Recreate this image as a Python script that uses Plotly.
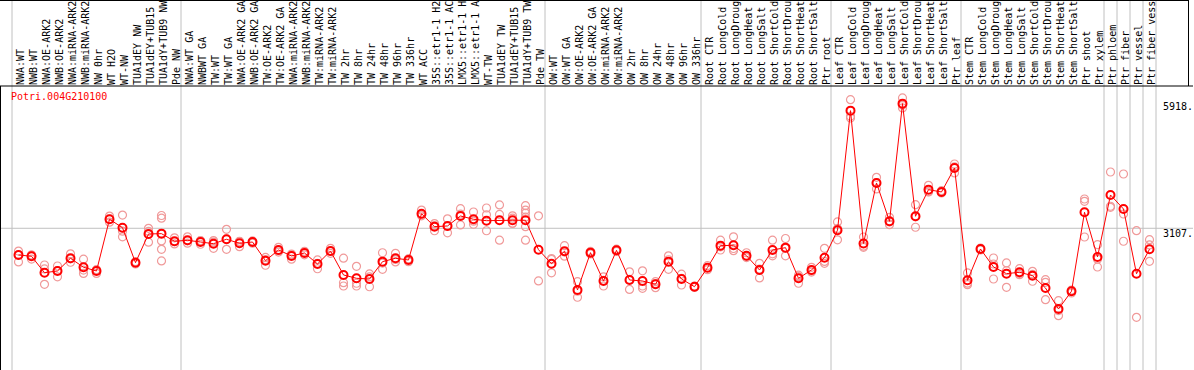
import plotly.graph_objects as go

gene = "Potri.004G210100"

samples = [
    "NWA:WT", "NWB:WT", "NWA:OE-ARK2", "NWB:OE-ARK2", "NWA:miRNA-ARK2", "NWB:miRNA-ARK2",
    "NW 0hr", "WT H2O", "WT-NW", "TUA1dEY NW", "TUA1dEY+TUB15", "TUA1dY+TUB9 NW", "Pde NW",
    "NWA:WT GA", "NWBWT GA", "TW:WT", "TW:WT GA", "NWA:OE-ARK2 GA", "NWB:OE-ARK2 GA",
    "TW:OE-ARK2", "TW:OE-ARK2 GA", "NWA:miRNA-ARK2", "NWB:miRNA-ARK2", "TW:miRNA-ARK2",
    "TW:miRNA-ARK2", "TW 2hr", "TW 8hr", "TW 24hr", "TW 48hr", "TW 96hr", "TW 336hr",
    "WT ACC", "35S::etr1-1 H2", "35S::etr1-1 AC", "LMX5::etr1-1 H", "LMX5::etr1-1 A",
    "WT-TW", "TUA1dEY TW", "TUA1dEY+TUB15", "TUA1dY+TUB9 TW", "Pde TW",
    "OW:WT", "OW:WT GA", "OW:OE-ARK2", "OW:OE-ARK2 GA", "OW:miRNA-ARK2", "OW:miRNA-ARK2",
    "OW 2hr", "OW 8hr", "OW 24hr", "OW 48hr", "OW 96hr", "OW 336hr",
    "Root CTR", "Root LongCold", "Root LongDroug", "Root LongHeat", "Root LongSalt",
    "Root ShortCold", "Root ShortDrou", "Root ShortHeat", "Root ShortSalt", "Ptr root",
    "Leaf CTR", "Leaf LongCold", "Leaf LongDroug", "Leaf LongHeat", "Leaf LongSalt",
    "Leaf ShortCold", "Leaf ShortDrou", "Leaf ShortHeat", "Leaf ShortSalt", "Ptr leaf",
    "Stem CTR", "Stem LongCold", "Stem LongDroug", "Stem LongHeat", "Stem LongSalt",
    "Stem ShortCold", "Stem ShortDrou", "Stem ShortHeat", "Stem ShortSalt", "Ptr shoot",
    "Ptr xylem", "Ptr phloem", "Ptr fiber", "Ptr vessel", "Ptr fiber vess",
]

mean_expr = [
    2531, 2503, 2149, 2186, 2460, 2266, 2186, 3301, 3120, 2365,
    2984, 2991, 2827, 2848, 2811, 2775, 2870, 2783, 2811, 2408,
    2639, 2510, 2574, 2337, 2617, 2100, 2028, 2013, 2387, 2460,
    2423, 3422, 3142, 3157, 3372, 3301, 3271, 3280, 3280, 3280,
    2645, 2343, 2611, 1776, 2581, 1970, 2632, 1992, 1970, 1899,
    2387, 2013, 1847, 2257, 2732, 2740, 2516, 2208, 2639, 2689,
    2028, 2208, 2473, 3066, 5644, 2779, 4084, 3258, 5795, 3366,
    3940, 3890, 4408, 1985, 2660, 2272, 2128, 2158, 2085, 1819,
    1366, 1748, 3452, 2488, 3825, 3523, 2126, 2656,
]

replicates = [
    [2616, 2530, 2381], [2530, 2443, 2530], [2315, 2231, 1899], [2293, 2059, 2193],
    [2557, 2374, 2449], [2440, 2206, 2133], [2206, 2133, 2213], [3370, 3304, 3238],
    [3392, 2923, 3045], [2387, 2337, 2373], [3107, 2807, 3040],
    [3383, 3326, 2835, 2653, 2403, 2991], [2901, 2770, 2817], [2923, 2785, 2837],
    [2842, 2763, 2835], [2842, 2675, 2807], [3085, 2653, 2873], [2820, 2710, 2825],
    [2835, 2785, 2817], [2478, 2309, 2433], [2697, 2594, 2622], [2550, 2440, 2534],
    [2609, 2535, 2572], [2425, 2234, 2353], [2675, 2566, 2607], [2462, 1934, 1862],
    [2287, 1921, 1862], [2059, 1846, 2123], [2579, 2221, 2356], [2566, 2381, 2433],
    [2440, 2387, 2448], [3500, 3376, 3397], [3208, 3054, 3165], [3311, 3010, 3150],
    [3529, 3179, 3412], [3458, 3194, 3260], [3544, 3398, 3054], [3610, 3405, 2851],
    [3376, 3326, 3216, 3210], [3594, 3500, 3436, 3348, 3142, 2851], [3376, 1971],
    [2453, 2146, 2433], [2732, 2506, 2597], [1956, 1619, 1750], [2607, 2552, 2579],
    [2059, 1862, 1985], [2657, 2607, 2631], [2168, 1789, 2008], [2190, 1862, 1811],
    [1956, 1825, 1915], [2512, 2221, 2428], [2118, 1884, 2029], [1862, 1830, 1846],
    [2300, 2213, 2256], [2851, 2638, 2707], [2923, 2623, 2671], [2579, 2475, 2498],
    [2352, 2037, 2229], [2851, 2512, 2557], [2886, 2512, 2672], [2096, 1921, 2062],
    [2265, 2163, 2190], [2675, 2352, 2393], [3245, 2857, 3100], [5881, 5523, 5486],
    [2919, 2697, 2720], [4207, 3955, 4090], [3344, 3185, 3245], [5918, 5702, 5765],
    [3616, 3129, 3353], [4034, 3890, 3896], [3918, 3870, 3882], [4494, 4300, 4430],
    [2143, 1890, 1922], [2682, 2640, 2658], [2466, 2013, 2337], [2359, 1834, 2191],
    [2236, 2106, 2132], [2179, 1964, 2112], [1998, 1942, 1567], [1545, 1221, 1332],
    [1711, 1760, 1773], [3739, 3689, 2919], [2753, 2272, 2440], [4321, 3582, 3560],
    [4278, 3415, 2827], [3055, 1187], [2861, 2395, 2747],
]

group_edges = [-0.5, 12.5, 40.5, 52.5, 62.5, 72.5, 83.5, 84.5, 85.5, 86.5, 87.5]
y_tick_vals = [0, 3107, 5918]
y_tick_text = ["0", "3107.", "5918."]

# ---- layout geometry (pixels) ----
W, H = 1194, 370
ML, MR, MT, MB = 1, 1, 86, 0
plot_w = W - ML - MR
plot_h = H - MT - MB
pitch = 13.0
first_px = 18.5
xr0 = -(first_px - ML) / pitch
xr1 = xr0 + plot_w / pitch
y_range = [50, 6176]

FONT = "DejaVu Sans Mono"


def paper_x(px):
    return (px - ML) / plot_w


def paper_y(py):
    return (H - MB - py) / plot_h


rep_x, rep_y = [], []
for i, r in enumerate(replicates):
    rep_x += [i] * len(r)
    rep_y += r

fig = go.Figure()
fig.add_trace(go.Scatter(
    x=rep_x, y=rep_y, mode="markers", cliponaxis=False,
    marker=dict(symbol="circle-open", size=8, color="#f09a9a", line=dict(width=1.2, color="#f09a9a")),
    showlegend=False, hoverinfo="skip",
))
fig.add_trace(go.Scatter(
    x=list(range(len(samples))), y=mean_expr, mode="lines+markers", cliponaxis=False,
    line=dict(color="#ff0000", width=1),
    marker=dict(symbol="circle-open", size=8, color="#ff0000", line=dict(width=2, color="#ff0000")),
    showlegend=False,
))

shapes = []
for e in group_edges:
    shapes.append(dict(type="line", xref="x", yref="paper", x0=e, x1=e, y0=0, y1=paper_y(0),
                       line=dict(color="#c0c0c0", width=1), layer="below"))
# mid reference line
shapes.append(dict(type="line", xref="paper", yref="y", x0=0, x1=1, y0=y_tick_vals[1], y1=y_tick_vals[1],
                   line=dict(color="#c0c0c0", width=1), layer="below"))
# label box frame
shapes.append(dict(type="line", xref="paper", yref="paper", x0=paper_x(0), x1=paper_x(1188.5),
                   y0=paper_y(0.5), y1=paper_y(0.5), line=dict(color="black", width=1)))
shapes.append(dict(type="line", xref="paper", yref="paper", x0=paper_x(1188.5), x1=paper_x(1188.5),
                   y0=paper_y(0), y1=1, line=dict(color="black", width=1)))
shapes.append(dict(type="line", xref="paper", yref="paper", x0=paper_x(0), x1=1,
                   y0=1, y1=1, line=dict(color="black", width=1)))

annotations = [dict(text=gene, xref="paper", yref="paper", x=paper_x(8.5), y=paper_y(97),
                    xanchor="left", yanchor="middle", showarrow=False,
                    font=dict(family=FONT, size=10, color="#ff0000"))]
shifts = [10, -5, -9]
for v, t, s in zip(y_tick_vals, y_tick_text, shifts):
    annotations.append(dict(text=t, xref="paper", yref="y", x=paper_x(1161), y=v, yshift=s,
                            xanchor="left", yanchor="middle", showarrow=False,
                            font=dict(family=FONT, size=10, color="black")))

fig.update_layout(
    width=W, height=H,
    margin=dict(l=ML, r=MR, t=MT, b=MB, pad=0),
    paper_bgcolor="white", plot_bgcolor="white",
    shapes=shapes, annotations=annotations,
    xaxis=dict(side="top", range=[xr0, xr1], tickmode="array",
               tickvals=list(range(len(samples))), ticktext=samples,
               tickangle=-90, ticks="", showgrid=False, zeroline=False,
               showline=False, automargin=False, ticklabelshift=2,
               tickfont=dict(family=FONT, size=10, color="black")),
    yaxis=dict(range=y_range, showgrid=False, zeroline=False, showticklabels=False,
               ticks="", showline=True, linecolor="black", linewidth=1, automargin=False,
               tickvals=y_tick_vals),
)

fig.write_html("out.html", config={"displayModeBar": False},
               post_script="document.body.style.margin='0';document.body.style.overflow='hidden';")
